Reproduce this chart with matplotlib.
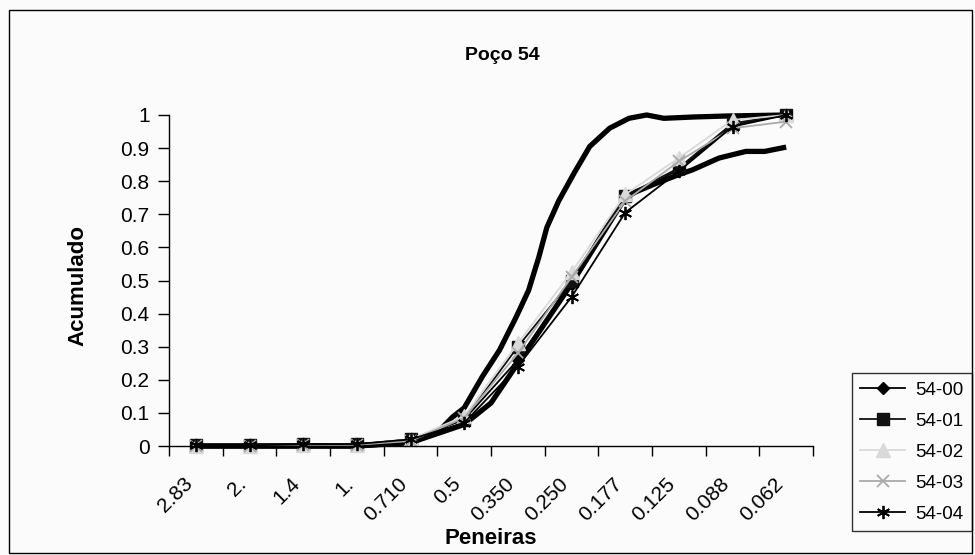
import numpy as np
import matplotlib
matplotlib.use("Agg")
import matplotlib.pyplot as plt
from matplotlib.patches import Rectangle
from matplotlib.transforms import ScaledTranslation

plt.rcParams['font.family'] = ['Liberation Sans', 'DejaVu Sans']

# Peneiras (categorias do eixo x)
peneiras = ['2.83', '2.', '1.4', '1.', '0.710', '0.5', '0.350', '0.250',
            '0.177', '0.125', '0.088', '0.062']

# Séries com marcadores
s54_00 = [0.002, 0.002, 0.004, 0.004, 0.020, 0.080, 0.260, 0.490, 0.750, 0.835, 0.970, 1.000]
s54_01 = [0.003, 0.003, 0.005, 0.005, 0.020, 0.080, 0.300, 0.500, 0.755, 0.840, 0.975, 1.000]
s54_02 = [0.000, 0.000, 0.003, 0.004, 0.020, 0.090, 0.310, 0.525, 0.760, 0.870, 0.985, 1.000]
s54_03 = [0.000, 0.000, 0.003, 0.004, 0.015, 0.085, 0.280, 0.510, 0.740, 0.860, 0.960, 0.980]
s54_04 = [0.002, 0.002, 0.005, 0.006, 0.020, 0.070, 0.240, 0.450, 0.705, 0.830, 0.965, 1.000]

# Curvas grossas (posição fracionária na escala das peneiras)
curvaA_x = [0, 3, 4, 4.5, 4.78, 5.0, 5.34, 5.66, 5.97, 6.2, 6.39, 6.54, 6.76,
            7.05, 7.34, 7.71, 8.07, 8.4, 8.72, 9.28, 9.9, 11]
curvaA_y = [0.0, 0.0, 0.012, 0.04, 0.087, 0.115, 0.21, 0.29, 0.39, 0.47, 0.57, 0.66, 0.74,
            0.825, 0.905, 0.96, 0.99, 1.0, 0.99, 0.994, 0.997, 1.0]
curvaB_x = [0, 3, 4, 5, 5.5, 6, 6.5, 7, 7.5, 8, 8.2, 8.6, 9, 9.25, 9.75, 10.25, 10.6, 11]
curvaB_y = [0.0, 0.0, 0.01, 0.065, 0.13, 0.25, 0.37, 0.49, 0.62, 0.75, 0.768, 0.795,
            0.82, 0.834, 0.87, 0.89, 0.89, 0.903]

W, H = 975, 555
fundo = '#fbfbfb'
fig = plt.figure(figsize=(W / 100, H / 100), dpi=100)
fig.patch.set_facecolor(fundo)
ax = fig.add_axes([169 / W, 1 - 446 / H, (813 - 169) / W, (446 - 115) / H])
ax.set_facecolor(fundo)

x = np.arange(len(peneiras))

ax.plot(curvaA_x, curvaA_y, color='black', linewidth=3.8, solid_capstyle='butt', clip_on=False)
ax.plot(curvaB_x, curvaB_y, color='black', linewidth=3.8, solid_capstyle='butt', clip_on=False)

lw = 1.3
ax.plot(x, s54_00, color='black', marker='D', markersize=6.5, linewidth=lw, label='54-00', clip_on=False)
ax.plot(x, s54_01, color='#111111', marker='s', markersize=8.5, linewidth=lw, label='54-01', clip_on=False)
ax.plot(x, s54_02, color='#d9d9d9', marker='^', markersize=9.5, linewidth=lw, label='54-02', clip_on=False)
ax.plot(x, s54_03, color='#aaaaaa', marker='x', markersize=8.5, markeredgewidth=1.3,
        linewidth=lw, label='54-03', clip_on=False)
ax.plot(x, s54_04, color='black', marker=(6, 2, 0), markersize=9.5, markeredgewidth=1.3,
        linewidth=lw, label='54-04', clip_on=False)

ax.set_xlim(-0.5, len(peneiras) - 0.5)
ax.set_ylim(0, 1)
ax.set_yticks(np.arange(0, 1.01, 0.1))
ax.set_yticklabels(['0'] + ['%.1f' % v for v in np.arange(0.1, 0.95, 0.1)] + ['1'], fontsize=15)
ax.set_xticks(x)
ax.set_xticklabels(peneiras, rotation=45, ha='right', va='top', rotation_mode='anchor', fontsize=15)
ax.set_xticks(np.arange(-0.5, len(peneiras), 1), minor=True)
ax.tick_params(axis='x', which='major', length=0, pad=0)
ax.tick_params(axis='x', which='minor', length=7, direction='out', width=1)
ax.tick_params(axis='y', length=8, direction='out', width=1, pad=6)

desloc = ScaledTranslation(-0.13, -0.28, fig.dpi_scale_trans)
for lab in ax.get_xticklabels():
    lab.set_transform(lab.get_transform() + desloc)

for s in ['top', 'right']:
    ax.spines[s].set_visible(False)
for s in ['left', 'bottom']:
    ax.spines[s].set_linewidth(1)

fig.text(502 / W, 1 - 55 / H, 'Poço 54', ha='center', va='center', fontsize=14, fontweight='bold')
fig.text(78 / W, 1 - 285 / H, 'Acumulado', rotation=90, ha='center', va='center',
         fontsize=16, fontweight='bold')
fig.text(491 / W, 1 - 539 / H, 'Peneiras', ha='center', va='center', fontsize=16, fontweight='bold')

leg = ax.legend(loc='upper right', bbox_to_anchor=(972 / W, 1 - 373 / H),
                bbox_transform=fig.transFigure, fontsize=13.5, frameon=True, fancybox=False,
                handlelength=2.4, labelspacing=0.74, borderpad=0.45, handletextpad=0.55,
                borderaxespad=0)
leg.get_frame().set_edgecolor('black')
leg.get_frame().set_linewidth(1)
leg.get_frame().set_facecolor(fundo)

fig.add_artist(Rectangle((9 / W, 1 - 553 / H), (972 - 9) / W, (553 - 10) / H,
                         transform=fig.transFigure, fill=False, edgecolor='black', linewidth=1))

fig.savefig('out.png', dpi=100, facecolor=fig.get_facecolor())
